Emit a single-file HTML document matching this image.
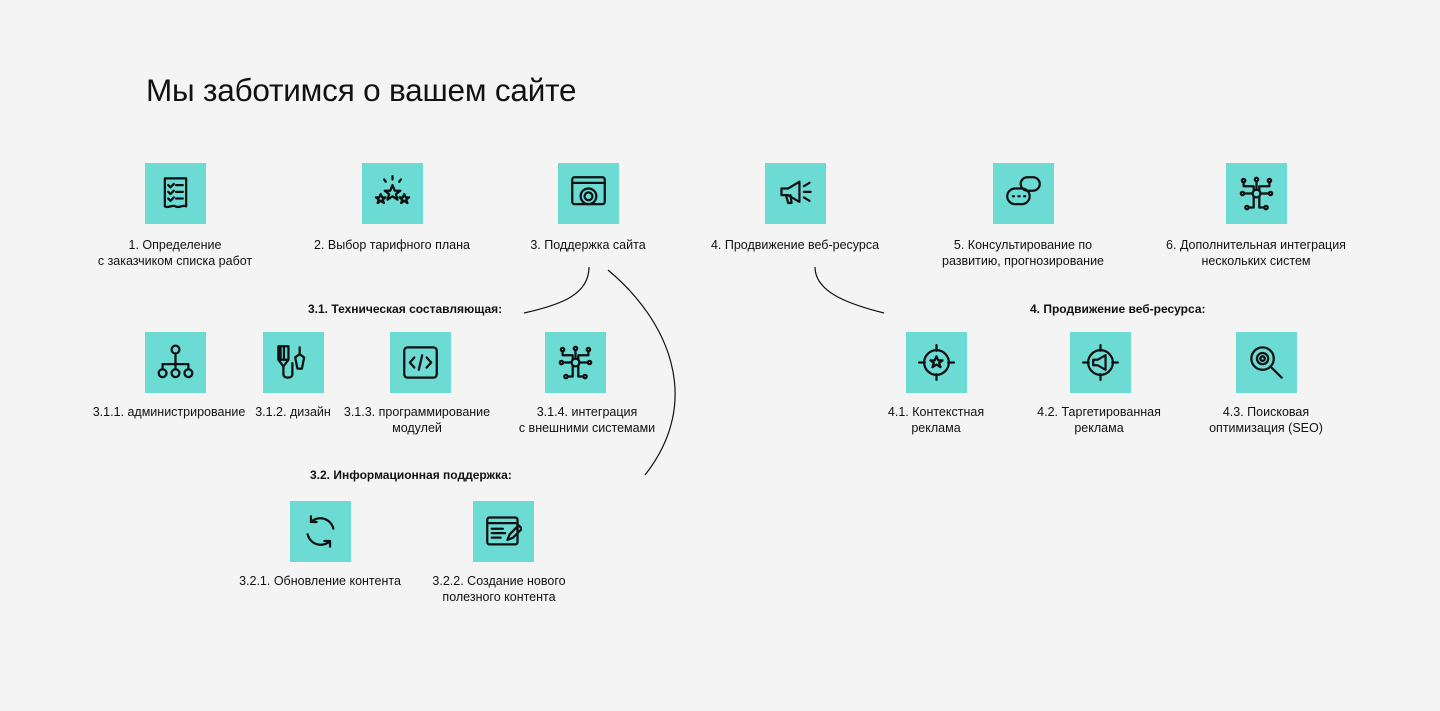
<!DOCTYPE html>
<html><head><meta charset="utf-8"><style>
body{margin:0;width:1440px;height:711px;background:#f4f4f4;font-family:"Liberation Sans",sans-serif;position:relative;overflow:hidden;color:#111}
h1{position:absolute;left:146px;top:72px;margin:0;font-weight:400;font-size:31.5px;letter-spacing:-0.2px}
.sq{position:absolute;width:61px;height:61px;background:#6cdbd4}
.sq svg{position:absolute;left:12px;top:12px;width:37px;height:37px;fill:none;stroke:#111;stroke-width:2;stroke-linecap:round;stroke-linejoin:round}
.lb{position:absolute;width:240px;text-align:center;font-size:12.5px;line-height:16px;transform:translateX(-50%)}
.hd{position:absolute;font-size:12px;font-weight:700}
</style></head><body>
<h1>Мы заботимся о вашем сайте</h1>
<svg style="position:absolute;left:0;top:0" width="1440" height="711" fill="none" stroke="#111" stroke-width="1.2">
<path d="M589,267 C589,295 560,305 524,313"/>
<path d="M608,270 C668,320 704,400 645,475"/>
<path d="M815,267 C815,292 848,304 884,313"/>
</svg>

<div class="sq" style="left:145px;top:163px"><svg viewBox="0 0 33 33"><path d="M7,3h19v25c-3,-2 -6,2 -9.5,0c-3,-2 -6,2 -9.5,0z"/><path d="M10,9l2,2l3,-3M10,15l2,2l3,-3M10,21l2,2l3,-3M17,9h6M17,15h6M17,21h6"/></svg></div>
<div class="sq" style="left:362px;top:163px"><svg viewBox="0 0 33 33"><path d="M16.5,9l2,5h5l-4,3l1.5,5l-4.5,-3l-4.5,3l1.5,-5l-4,-3h5z"/><path d="M6,17l1.3,3h3l-2.5,2l1,3l-2.8,-2l-2.8,2l1,-3l-2.5,-2h3zM27,17l1.3,3h3l-2.5,2l1,3l-2.8,-2l-2.8,2l1,-3l-2.5,-2h3z"/><path d="M16.5,1v3M9,4l1.5,2M24,4l-1.5,2"/></svg></div>
<div class="sq" style="left:558px;top:163px"><svg viewBox="0 0 33 33"><rect x="2" y="2" width="29" height="24" rx="2"/><path d="M2,7h29"/><circle cx="16.5" cy="19" r="7"/><circle cx="16.5" cy="19" r="3.5"/></svg></div>
<div class="sq" style="left:765px;top:163px"><svg viewBox="0 0 33 33"><path d="M4,12h6l10,-6v18l-10,-6h-6z"/><path d="M8,18l2,7h3l-1,-7M24,10l5,-3M24,15h6M24,20l5,3"/></svg></div>
<div class="sq" style="left:993px;top:163px"><svg viewBox="0 0 33 33"><rect x="14" y="2" width="17" height="12" rx="6"/><rect x="2" y="12" width="20" height="14" rx="7"/><path d="M7,19h1M12,19h1M17,19h1"/></svg></div>
<div class="sq" style="left:1226px;top:163px"><svg viewBox="0 0 33 33"><circle cx="16.5" cy="16.5" r="3.5"/><circle cx="5" cy="5" r="1.5"/><circle cx="16.5" cy="4" r="1.5"/><circle cx="28" cy="5" r="1.5"/><circle cx="4" cy="16.5" r="1.5"/><circle cx="29" cy="16.5" r="1.5"/><circle cx="8" cy="29" r="1.5"/><circle cx="25" cy="29" r="1.5"/><path d="M16.5,6v7M5,7v3h9v4M28,7v3h-9v4M6,16.5h7M20,16.5h7M14,20v9h-4M19,20v9h4"/></svg></div>

<div class="lb" style="left:175px;top:237px">1. Определение<br>с заказчиком списка работ</div>
<div class="lb" style="left:392px;top:237px">2. Выбор тарифного плана</div>
<div class="lb" style="left:588px;top:237px">3. Поддержка сайта</div>
<div class="lb" style="left:795px;top:237px">4. Продвижение веб-ресурса</div>
<div class="lb" style="left:1023px;top:237px">5. Консультирование по<br>развитию, прогнозирование</div>
<div class="lb" style="left:1256px;top:237px">6. Дополнительная интеграция<br>нескольких систем</div>

<div class="hd" style="left:308px;top:302px">3.1. Техническая составляющая:</div>
<div class="hd" style="left:1030px;top:302px">4. Продвижение веб-ресурса:</div>
<div class="hd" style="left:310px;top:468px">3.2. Информационная поддержка:</div>

<div class="sq" style="left:145px;top:332px"><svg viewBox="0 0 33 33"><circle cx="16.5" cy="5" r="3.5"/><path d="M16.5,9v6M5,22v-4h23v4M16.5,15v7"/><circle cx="5" cy="26" r="3.5"/><circle cx="16.5" cy="26" r="3.5"/><circle cx="28" cy="26" r="3.5"/></svg></div>
<div class="sq" style="left:263px;top:332px"><svg viewBox="0 0 33 33"><path d="M3,2h9v12h-9zM5,2v12M8,2v12M3,14l4.5,6l4.5,-6M7.5,20v7c0,4 8,4 8,0v-10M22,3v6M18,12l4,-3l4,3l-2,10h-4z"/></svg></div>
<div class="sq" style="left:390px;top:332px"><svg viewBox="0 0 33 33"><rect x="2" y="3" width="29" height="27" rx="3"/><path d="M11,12l-4,4.5l4,4.5M22,12l4,4.5l-4,4.5M18,10l-3,13"/></svg></div>
<div class="sq" style="left:545px;top:332px"><svg viewBox="0 0 33 33"><circle cx="16.5" cy="16.5" r="3.5"/><circle cx="5" cy="5" r="1.5"/><circle cx="16.5" cy="4" r="1.5"/><circle cx="28" cy="5" r="1.5"/><circle cx="4" cy="16.5" r="1.5"/><circle cx="29" cy="16.5" r="1.5"/><circle cx="8" cy="29" r="1.5"/><circle cx="25" cy="29" r="1.5"/><path d="M16.5,6v7M5,7v3h9v4M28,7v3h-9v4M6,16.5h7M20,16.5h7M14,20v9h-4M19,20v9h4"/></svg></div>
<div class="sq" style="left:906px;top:332px"><svg viewBox="0 0 33 33"><circle cx="16.5" cy="16.5" r="11"/><path d="M16.5,1v5M16.5,27v5M1,16.5h5M27,16.5h5"/><path d="M16.5,11l1.6,3.6h3.8l-3,2.3l1.2,3.8l-3.6,-2.4l-3.6,2.4l1.2,-3.8l-3,-2.3h3.8z"/></svg></div>
<div class="sq" style="left:1070px;top:332px"><svg viewBox="0 0 33 33"><circle cx="16.5" cy="16.5" r="11"/><path d="M16.5,1v5M16.5,27v5M1,16.5h5M27,16.5h5"/><path d="M10,14h4l7,-4v13l-7,-4h-4z"/></svg></div>
<div class="sq" style="left:1236px;top:332px"><svg viewBox="0 0 33 33"><circle cx="13" cy="13" r="10"/><circle cx="13" cy="13" r="5"/><circle cx="13" cy="13" r="2"/><path d="M20,20l10,10"/></svg></div>

<div class="lb" style="left:169px;top:404px">3.1.1. администрирование</div>
<div class="lb" style="left:293px;top:404px">3.1.2. дизайн</div>
<div class="lb" style="left:417px;top:404px">3.1.3. программирование<br>модулей</div>
<div class="lb" style="left:587px;top:404px">3.1.4. интеграция<br>с внешними системами</div>
<div class="lb" style="left:936px;top:404px">4.1. Контекстная<br>реклама</div>
<div class="lb" style="left:1099px;top:404px">4.2. Таргетированная<br>реклама</div>
<div class="lb" style="left:1266px;top:404px">4.3. Поисковая<br>оптимизация (SEO)</div>

<div class="sq" style="left:290px;top:501px"><svg viewBox="0 0 33 33"><path d="M8,8a12,12 0 0 1 20,6M25,25a12,12 0 0 1 -20,-6"/><path d="M8,3v5h5M25,30v-5h-5"/></svg></div>
<div class="sq" style="left:473px;top:501px"><svg viewBox="0 0 33 33"><rect x="2" y="4" width="27" height="24" rx="2"/><path d="M2,9h27M6,14h10M6,18h12M6,22h8M20,24l2,-5l8,-8l3,3l-8,8z"/></svg></div>
<div class="lb" style="left:320px;top:573px">3.2.1. Обновление контента</div>
<div class="lb" style="left:499px;top:573px">3.2.2. Создание нового<br>полезного контента</div>
</body></html>
